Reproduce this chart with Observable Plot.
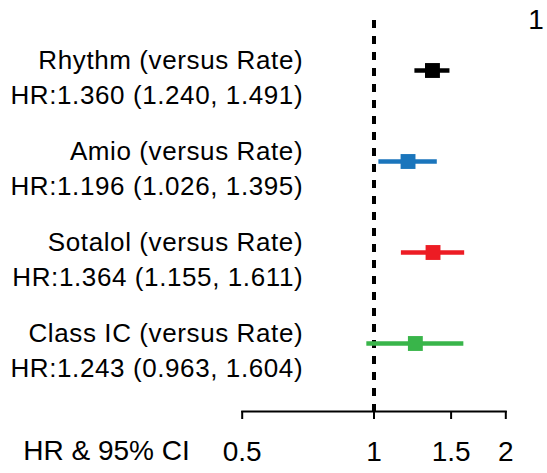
<!DOCTYPE html>
<html>
<head>
<meta charset="utf-8">
<script src="https://cdn.jsdelivr.net/npm/d3@7"></script>
<script src="https://cdn.jsdelivr.net/npm/@observablehq/plot@0.6"></script>
<style>
  html, body { margin: 0; padding: 0; background: #fff; }
</style>
</head>
<body>
<div id="chart"></div>
<script>
const comparisons = ["Rhythm (versus Rate)", "Amio (versus Rate)", "Sotalol (versus Rate)", "Class IC (versus Rate)"];
const hr = [1.360, 1.196, 1.364, 1.243];
const lower = [1.240, 1.026, 1.155, 0.963];
const upper = [1.491, 1.395, 1.611, 1.604];
const colors = ["#000000", "#1a75bc", "#ed1c24", "#39b54a"];
const xTicks = [0.5, 1, 1.5, 2];
const xTickLabels = ["0.5", "1", "1.5", "2"];
const axisTitle = "HR & 95% CI";
const panelLabel = "1";

const f3 = d3.format(".3f");
const rows = comparisons.map((c, i) => ({
  name: c,
  hr: hr[i],
  lo: lower[i],
  hi: upper[i],
  color: colors[i],
  stat: `HR:${f3(hr[i])} (${f3(lower[i])}, ${f3(upper[i])})`
}));

const font = "'Liberation Sans', Arial, Helvetica, sans-serif";

const chart = Plot.plot({
  width: 547,
  height: 473,
  marginLeft: 241.7,
  marginRight: 41.7,
  marginTop: 2,
  marginBottom: 62,
  style: { fontFamily: font, fontSize: "28px", background: "#fff", color: "#000" },
  x: { type: "log", domain: [0.5, 2] },
  y: { type: "point", domain: comparisons, padding: 0.747, axis: null },
  marks: [
    Plot.frame({ anchor: "bottom", stroke: "#000", strokeWidth: 2 }),
    Plot.axisX({
      ticks: xTicks,
      tickFormat: d => xTickLabels[xTicks.indexOf(d)],
      tickSize: 8,
      tickPadding: 22,
      strokeWidth: 2,
      stroke: "#000",
      fill: "#000",
      fontSize: 28
    }),
    Plot.ruleX([1], { stroke: "#000", strokeWidth: 4, strokeDasharray: "8,8", insetTop: 18, insetBottom: -3 }),
    Plot.ruleY(rows, { y: "name", x1: "lo", x2: "hi", stroke: "color", strokeWidth: 4.5 }),
    Plot.dot(rows, { y: "name", x: "hr", symbol: "square", r: 8.4, fill: "color", stroke: null }),
    Plot.text(rows, {
      y: "name", text: "name", frameAnchor: "left", dx: 61, dy: -10,
      textAnchor: "end", lineAnchor: "middle", fontSize: 26, fill: "#000"
    }),
    Plot.text(rows, {
      y: "name", text: "stat", frameAnchor: "left", dx: 61, dy: 25,
      textAnchor: "end", lineAnchor: "middle", fontSize: 26, fill: "#000"
    }),
    Plot.text([axisTitle], {
      frameAnchor: "bottom-left", dx: -219, dy: 39.5,
      textAnchor: "start", lineAnchor: "middle", fontSize: 28, fill: "#000"
    }),
    Plot.text([panelLabel], {
      frameAnchor: "top-right", dx: 38, dy: 7,
      textAnchor: "end", lineAnchor: "top", fontSize: 28, fill: "#000"
    })
  ]
});

// reference label text is slightly stretched horizontally: widen with letter spacing
chart.querySelectorAll("g[font-size='26']").forEach(g => {
  g.setAttribute("letter-spacing", "0.6");
});

document.getElementById("chart").appendChild(chart);
</script>
</body>
</html>
